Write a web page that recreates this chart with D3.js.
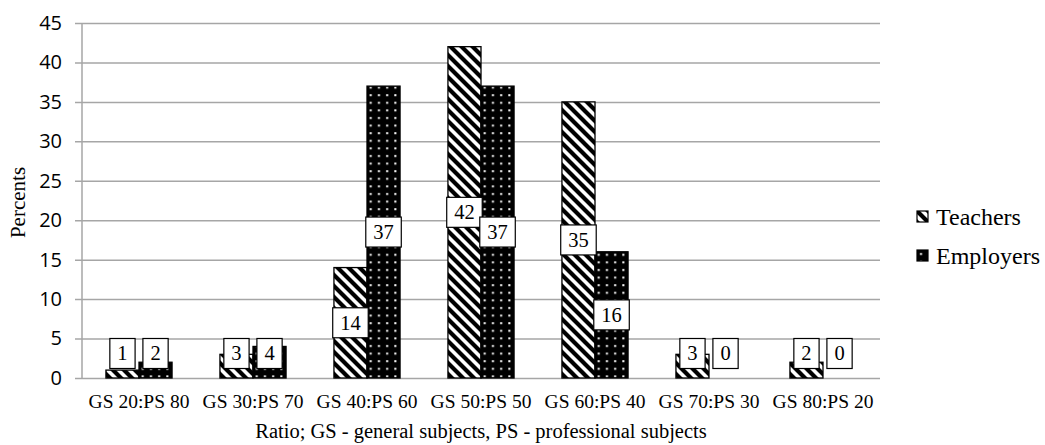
<!DOCTYPE html>
<html>
<head>
<meta charset="utf-8">
<script src="https://cdn.jsdelivr.net/npm/d3@7"></script>
<style>
  html, body { margin: 0; padding: 0; background: #fff; }
  svg { display: block; }
</style>
</head>
<body>
<svg id="chart" width="1045" height="445"></svg>
<script>
const categories = ["GS 20:PS 80", "GS 30:PS 70", "GS 40:PS 60", "GS 50:PS 50", "GS 60:PS 40", "GS 70:PS 30", "GS 80:PS 20"];
const seriesNames = ["Teachers", "Employers"];
const teachers = [1, 3, 14, 42, 35, 3, 2];
const employers = [2, 4, 37, 37, 16, 0, 0];
const yTicks = [0, 5, 10, 15, 20, 25, 30, 35, 40, 45];
const yTitle = "Percents";
const xTitle = "Ratio; GS - general subjects, PS - professional subjects";

const seriesValues = { Teachers: teachers, Employers: employers };
const serif = "Liberation Serif, Times New Roman, serif";
const sans = "Open Sans, Noto Sans, sans-serif";
const gridColor = "#a6a6a6";

const svg = d3.select("#chart");
const plot = { left: 82, right: 880, top: 23, bottom: 378 };

// Patterns
const defs = svg.append("defs");
const s = 11;
const pT = defs.append("pattern").attr("id", "pat-teachers")
  .attr("patternUnits", "userSpaceOnUse").attr("width", s).attr("height", s);
pT.append("rect").attr("width", s).attr("height", s).attr("fill", "#fff");
pT.append("path")
  .attr("d", `M0,0L${s},${s}M${-s/2},${s/2}L${s/2},${1.5*s}M${s/2},${-s/2}L${1.5*s},${s/2}`)
  .attr("stroke", "#000").attr("stroke-width", 4.2).attr("stroke-linecap", "square");
const pE = defs.append("pattern").attr("id", "pat-employers")
  .attr("patternUnits", "userSpaceOnUse").attr("width", 8.2).attr("height", 7.6);
pE.append("rect").attr("width", 8.2).attr("height", 7.6).attr("fill", "#000");
pE.append("rect").attr("x", 3).attr("y", 3).attr("width", 2).attr("height", 2).attr("fill", "#fff");
const fills = { Teachers: "url(#pat-teachers)", Employers: "url(#pat-employers)" };

// Scales
const x0 = d3.scaleBand().domain(categories).range([plot.left, plot.right])
  .paddingInner(0.42).paddingOuter(0.21);
const x1 = d3.scaleBand().domain(seriesNames).range([0, x0.bandwidth()]);
const y = d3.scaleLinear().domain([0, 45]).range([plot.bottom, plot.top]);

// Y axis with gridlines
const yAxisG = svg.append("g").attr("transform", `translate(${plot.left - 7},0)`)
  .call(d3.axisLeft(y).tickValues(yTicks).tickSizeInner(-(plot.right - plot.left + 7)).tickSizeOuter(0).tickPadding(13));
yAxisG.select(".domain").remove();
yAxisG.selectAll(".tick line").attr("stroke", gridColor).attr("stroke-width", 1.5);
yAxisG.selectAll(".tick text").attr("font-family", sans).attr("font-size", 20).attr("fill", "#000");

svg.append("line").attr("x1", plot.left).attr("x2", plot.left)
  .attr("y1", y(45)).attr("y2", y(0)).attr("stroke", gridColor).attr("stroke-width", 1.5);

// X axis labels
const xAxisG = svg.append("g").attr("transform", `translate(0,${plot.bottom})`)
  .call(d3.axisBottom(x0).tickSize(0).tickPadding(16));
xAxisG.select(".domain").remove();
xAxisG.selectAll(".tick text").attr("font-family", serif).attr("font-size", 19.5).attr("fill", "#000");

// Bars
const groups = svg.append("g").selectAll("g").data(categories).join("g")
  .attr("transform", d => `translate(${x0(d)},0)`);
groups.selectAll("rect").data((c, i) => seriesNames.map(sn => ({ sn, v: seriesValues[sn][i] })))
  .join("rect")
  .attr("x", d => x1(d.sn))
  .attr("width", x1.bandwidth())
  .attr("y", d => y(d.v))
  .attr("height", d => y(0) - y(d.v))
  .attr("fill", d => fills[d.sn])
  .attr("stroke", d => d.v > 0 ? "#000" : "none")
  .attr("stroke-width", 1.3);

// Data labels
const labels = groups.selectAll("g.lbl").data((c, i) => seriesNames.map(sn => ({ sn, v: seriesValues[sn][i] })))
  .join("g").attr("class", "lbl")
  .attr("transform", d => `translate(${x1(d.sn) + x1.bandwidth() / 2},${Math.min(y(d.v / 2), y(0) - 24.5)})`);
labels.append("rect").attr("fill", "#fff").attr("stroke", "#000").attr("stroke-width", 1.2);
labels.append("text").attr("text-anchor", "middle").attr("dy", "0.34em")
  .attr("font-family", serif).attr("font-size", 20.5).attr("fill", "#000")
  .text(d => d.v);
labels.each(function () {
  const g = d3.select(this);
  const w = g.select("text").node().getComputedTextLength() + 15;
  const h = 30;
  g.select("rect").attr("x", -w / 2).attr("y", -h / 2).attr("width", w).attr("height", h);
});

// Axis titles
svg.append("text").attr("transform", `translate(25,${(plot.top + plot.bottom) / 2 + 2}) rotate(-90)`)
  .attr("text-anchor", "middle").attr("font-family", serif).attr("font-size", 21).text(yTitle);
svg.append("text").attr("x", (plot.left + plot.right) / 2).attr("y", 438)
  .attr("text-anchor", "middle").attr("font-family", serif).attr("font-size", 20.5).text(xTitle);

// Legend
const legend = svg.append("g").selectAll("g").data(seriesNames).join("g")
  .attr("transform", (d, i) => `translate(917,${211 + i * 39})`);
legend.append("rect").attr("width", 11).attr("height", 11)
  .attr("fill", d => fills[d]).attr("stroke", "#000").attr("stroke-width", 1.2);
legend.append("text").attr("x", 19).attr("y", 14)
  .attr("font-family", serif).attr("font-size", 24).text(d => d);
</script>
</body>
</html>
